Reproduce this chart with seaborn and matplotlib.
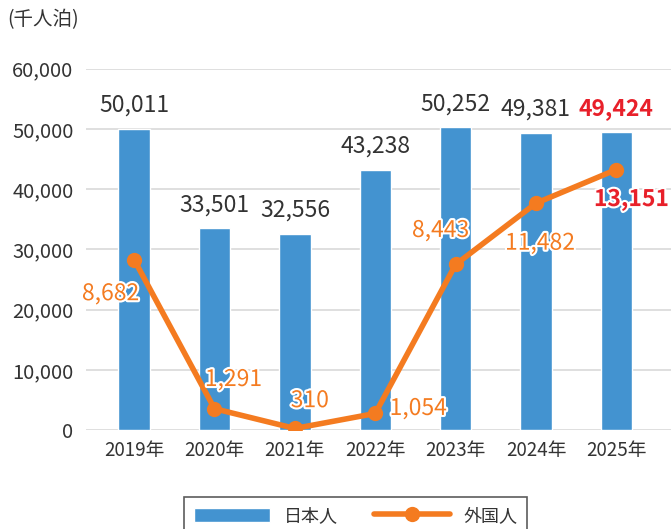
import numpy as np
import pandas as pd
import seaborn as sns
import matplotlib.pyplot as plt
import matplotlib.patheffects as pe

# data
years = ["2019年", "2020年", "2021年", "2022年", "2023年", "2024年", "2025年"]
japanese = [50011, 33501, 32556, 43238, 50252, 49381, 49424]
foreign = [8682, 1291, 310, 1054, 8443, 11482, 13151]

BLUE = "#4393D0"
ORANGE = "#F47B20"
RED = "#E8202A"
DARK = "#333333"

sns.set_theme(style="white")
plt.rcParams['font.family'] = ['Noto Sans CJK JP', 'DejaVu Sans']

df = pd.DataFrame({"year": years, "japanese": japanese,
                   "foreign": foreign, "pos": np.arange(len(years))})

fig = plt.figure(figsize=(6.71, 5.29), dpi=100)
ax = fig.add_axes([0.128, 0.187, 0.872, 0.683])

# bars: Japanese guest nights
sns.barplot(data=df, x="year", y="japanese", color=BLUE, width=0.39,
            saturation=1, ax=ax, zorder=2, label="日本人", legend=False)
if ax.get_legend() is not None:
    ax.get_legend().remove()

ax.set_ylim(0, 60000)
ax.set_xlim(-0.6, 6.68)
ax.set_yticks(np.arange(0, 60001, 10000))
ax.set_yticklabels([f"{v:,}" for v in range(0, 60001, 10000)])
ax.yaxis.grid(True, color="#d9d9d9", linewidth=1.2, zorder=0)
ax.set_axisbelow(True)
ax.tick_params(axis="y", length=0, pad=9, labelsize=14.5, labelcolor=DARK)
ax.tick_params(axis="x", length=0, pad=7, labelsize=13.5, labelcolor=DARK)
ax.set(xlabel="", ylabel="")
for s in ax.spines.values():
    s.set_visible(False)

# labels above bars
for i, v in enumerate(japanese):
    last = i == len(japanese) - 1
    ax.annotate(f"{v:,}", (i, v), xytext=(0, 17), textcoords="offset points",
                ha="center", va="center", fontsize=16.5,
                color=RED if last else DARK,
                fontweight="bold" if last else "normal")

# line: foreign guest nights on hidden secondary scale
ax2 = ax.twinx()
sns.lineplot(data=df, x="pos", y="foreign", color=ORANGE, linewidth=4,
             marker="o", markersize=11, markeredgewidth=0, ax=ax2,
             label="外国人", legend=False)
ax2.set_ylim(230, 18150)
ax2.set_xlim(-0.6, 6.68)
ax2.set_yticks([])
ax2.set(xlabel="", ylabel="")
for s in ax2.spines.values():
    s.set_visible(False)

offsets = [(-17, -24.5), (13.7, 21), (10.8, 20), (31, 3.6),
           (-10.8, 24.5), (2.9, -28.8), (11, -21.6)]
stroke = [pe.withStroke(linewidth=3, foreground="white")]
for i, (v, off) in enumerate(zip(foreign, offsets)):
    last = i == len(foreign) - 1
    ax2.annotate(f"{v:,}", (i, v), xytext=off, textcoords="offset points",
                 ha="center", va="center", fontsize=16.5,
                 color=RED if last else ORANGE,
                 fontweight="bold" if last else "normal",
                 path_effects=stroke)

fig.text(0.011, 0.963, "(千人泊)", fontsize=14, color=DARK, ha="left", va="center")

h1, l1 = ax.get_legend_handles_labels()
h2, l2 = ax2.get_legend_handles_labels()
leg = fig.legend(h1 + h2, l1 + l2, loc="upper center",
                 bbox_to_anchor=(0.53, 0.0605), ncol=2, fontsize=13,
                 frameon=True, fancybox=False, edgecolor=DARK,
                 handlelength=4.2, handleheight=0.8, handletextpad=0.75,
                 columnspacing=2.0, borderpad=0.55, borderaxespad=0)
leg.get_frame().set_linewidth(1.2)
for t in leg.get_texts():
    t.set_color(DARK)

fig.savefig("out.png", dpi=100)
